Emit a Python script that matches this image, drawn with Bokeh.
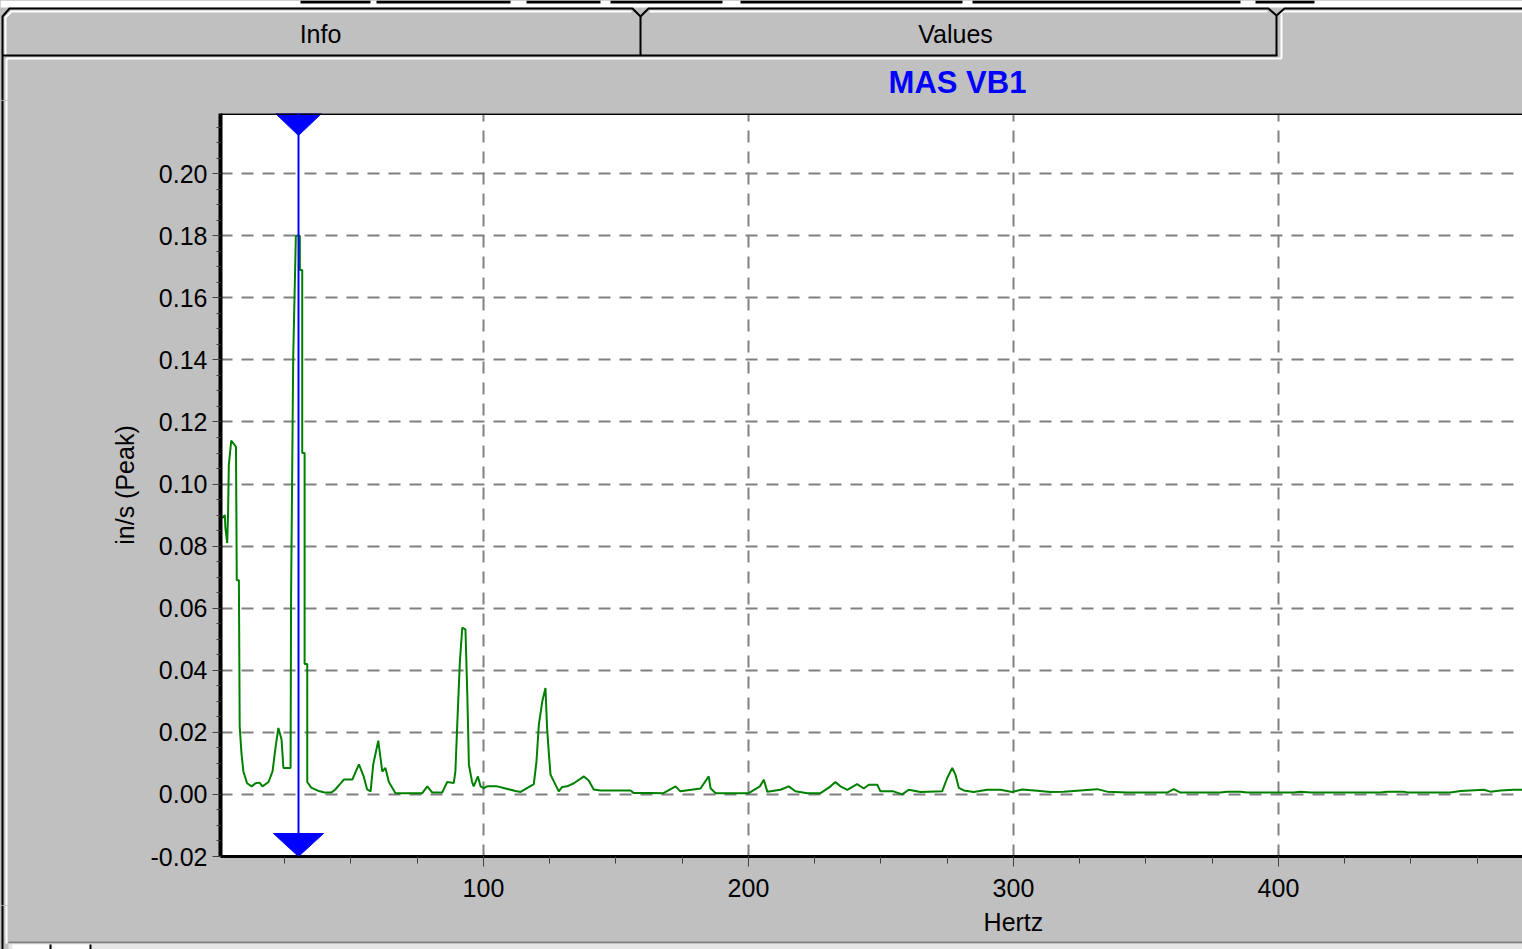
import numpy as np
from bokeh.plotting import figure
from bokeh.layouts import column, row
from bokeh.models import Range1d, FixedTicker, NumeralTickFormatter, Span
from bokeh.embed import file_html
from bokeh.resources import INLINE
from bokeh.core.properties import value

# ---------------- data ----------------
title_text = "MAS VB1"
x_label = "Hertz"
y_label = "in/s (Peak)"
tab_labels = ["Info", "Values"]

freq_hz = [1.4, 2.4, 2.6, 3.3, 3.6, 3.9, 4.8, 5.7, 6.6, 6.9, 7.7, 8.0, 8.7, 9.4, 10.8, 12.5,
           14.0, 15.5, 16.6, 18.9, 20.4, 21.5, 22.6, 23.8, 24.5, 27.2, 27.4, 28.2, 29.2, 30.7,
           30.7, 31.6, 31.6, 32.5, 32.5, 33.5, 33.5, 35.0, 37.5, 40.0, 42.5, 44.0, 46.0, 47.3,
           50.5, 53.0, 54.8, 56.1, 57.4, 58.4, 60.3, 61.8, 63.0, 64.3, 66.8, 76.9, 78.8, 80.7,
           84.4, 86.3, 88.8, 89.4, 90.1, 91.1, 92.0, 93.2, 93.9, 94.5, 95.7, 96.3, 97.9, 98.9,
           100.1, 101.4, 105.2, 112.1, 114.0, 119.0, 120.0, 120.9, 122.2, 123.4, 124.0, 124.7,
           125.3, 128.4, 129.7, 131.6, 134.1, 137.9, 139.7, 141.6, 144.2, 155.5, 156.6, 163.0,
           167.9, 172.5, 174.3, 181.9, 185.0, 185.7, 187.6, 200.1, 204.3, 205.8, 207.1, 212.1,
           215.2, 217.7, 222.2, 227.2, 231.0, 232.8, 234.7, 237.3, 241.0, 243.5, 245.4, 248.6,
           249.8, 254.7, 258.0, 260.5, 264.9, 273.1, 275.0, 276.9, 278.1, 279.4, 281.3, 285.0,
           290.1, 295.1, 299.5, 303.3, 309.0, 314.0, 318.9, 331.6, 335.4, 342.9, 358.0, 360.5,
           363.0, 378.1, 380.6, 385.7, 388.2, 405.7, 408.3, 412.1, 438.5, 441.0, 447.2, 448.6,
           464.9, 468.7, 477.5, 480.0, 483.8, 488.7, 492.1]
amp_ips = [0.089, 0.090, 0.086, 0.081, 0.090, 0.106, 0.114, 0.113, 0.112, 0.069, 0.069, 0.022,
           0.013, 0.0074, 0.0036, 0.0026, 0.0036, 0.0038, 0.0026, 0.0040, 0.0074, 0.0150, 0.0214,
           0.0177, 0.0085, 0.0085, 0.0645, 0.141, 0.180, 0.180, 0.169, 0.169, 0.110, 0.110, 0.042,
           0.042, 0.004, 0.0022, 0.0012, 0.0006, 0.0006, 0.0015, 0.0035, 0.0048, 0.0048, 0.0097,
           0.0058, 0.0016, 0.0010, 0.0097, 0.0173, 0.0074, 0.0085, 0.0040, 0.0004, 0.0004, 0.0026,
           0.0006, 0.0006, 0.0040, 0.0037, 0.0074, 0.0225, 0.0429, 0.0537, 0.0532, 0.0322, 0.0096,
           0.0040, 0.0026, 0.0058, 0.0026, 0.0020, 0.0026, 0.0026, 0.0011, 0.0008, 0.0033, 0.0106,
           0.0225, 0.0300, 0.0343, 0.0214, 0.0129, 0.0064, 0.0010, 0.0024, 0.0026, 0.0036, 0.0058,
           0.0045, 0.0016, 0.0013, 0.0013, 0.0005, 0.0005, 0.0004, 0.0026, 0.0010, 0.0019, 0.0058,
           0.0020, 0.0004, 0.0004, 0.0026, 0.0047, 0.0009, 0.0015, 0.0026, 0.0010, 0.0004, 0.0004,
           0.0026, 0.0040, 0.0026, 0.0015, 0.0033, 0.0019, 0.0031, 0.0031, 0.0010, 0.0010, 0.0000,
           0.0015, 0.0008, 0.0010, 0.0053, 0.0085, 0.0064, 0.0021, 0.0013, 0.0008, 0.0015, 0.0015,
           0.0008, 0.0016, 0.0012, 0.0008, 0.0009, 0.0017, 0.0009, 0.0006, 0.0006, 0.0017, 0.0006,
           0.0006, 0.0009, 0.0009, 0.0006, 0.0006, 0.0009, 0.0006, 0.0006, 0.0009, 0.0009, 0.0006,
           0.0006, 0.0011, 0.0015, 0.0009, 0.0013, 0.0015, 0.0015]
cursor_hz = 30.2

x_ticks = [100, 200, 300, 400]
y_ticks = [-0.02, 0.0, 0.02, 0.04, 0.06, 0.08, 0.10, 0.12, 0.14, 0.16, 0.18, 0.20]

# ---------------- layout constants ----------------
X0, X1 = 0.76, 492.1
Y0, Y1 = -0.02, 0.2194
PAGE_W = 1522
HEAD_H = 100          # tabs + chart title
LEFT_W = 8
MAIN_W = PAGE_W - LEFT_W
MAIN_H = 805
BOT_H = 44
FRAME_L, FRAME_T, FRAME_B = 220 - LEFT_W, 13, 49
FRAME_W = MAIN_W - FRAME_L
FRAME_H = MAIN_H - FRAME_T - FRAME_B
GRAY = "#C0C0C0"
FONT = "Liberation Sans"


def chrome_fig(w, h):
    f = figure(width=w, height=h, x_range=Range1d(0, w), y_range=Range1d(h, 0),
               toolbar_location=None, output_backend="svg", x_axis_location=None,
               y_axis_location=None, min_border=0, background_fill_color=GRAY,
               border_fill_color=GRAY, outline_line_color=None)
    f.grid.visible = False
    f.frame_align = False
    return f


# ---------------- tab strip + title ----------------
t = chrome_fig(PAGE_W, HEAD_H)
t.quad(left=[0], right=[PAGE_W], top=[0], bottom=[7], fill_color="white", line_color=None)
seg_l = [300, 376, 526, 610, 740, 972, 1255]
seg_r = [370, 510, 600, 722, 962, 1240, 1314]
t.quad(left=seg_l, right=seg_r, top=[0] * 7, bottom=[3] * 7, fill_color="black", line_color=None)
t.multi_line(xs=[[5, 5, 11, 631], [649, 1267], [1281, 1281, PAGE_W], [6, 1281]],
             ys=[[55, 17, 11, 11], [11, 11], [58, 11, 11], [58, 58]],
             line_color="white", line_width=2)
t.multi_line(xs=[[2, 2, 9, 632, 640, 648, 1268, 1276, 1284, PAGE_W], [640, 640], [1276, 1276], [2, 1277]],
             ys=[[HEAD_H, 16, 8, 8, 16, 8, 8, 15, 8, 8], [16, 55], [15, 55], [55, 55]],
             line_color="black", line_width=2)
t.quad(left=[5], right=[7], top=[58], bottom=[HEAD_H], fill_color="white", line_color=None)
t.text(x=[320, 955], y=[33, 33], text=tab_labels, text_font=value(FONT), text_font_size="25px",
       text_align="center", text_baseline="middle", text_color="black")
t.text(x=[957], y=[82], text=[title_text], text_font=value(FONT), text_font_size="31px",
       text_font_style="bold", text_align="center", text_baseline="middle", text_color="#0000FF")

# ---------------- left panel edge ----------------
lf = chrome_fig(LEFT_W, MAIN_H)
lf.quad(left=[1, 5], right=[3, 7], top=[0, 0], bottom=[MAIN_H, MAIN_H],
        fill_color=["black", "white"], line_color=None)

# ---------------- main chart ----------------
p = figure(width=MAIN_W, height=MAIN_H, x_range=Range1d(X0, X1), y_range=Range1d(Y0, Y1),
           toolbar_location=None, output_backend="svg",
           min_border_left=FRAME_L, min_border_right=0, min_border_top=FRAME_T, min_border_bottom=FRAME_B,
           background_fill_color="white", border_fill_color=GRAY, outline_line_color=None)
p.frame_align = False

p.xaxis.ticker = FixedTicker(ticks=x_ticks, minor_ticks=list(np.arange(25, 500, 25)))
p.yaxis.ticker = FixedTicker(ticks=y_ticks, minor_ticks=list(np.round(np.arange(-0.02, 0.2201, 0.005), 3)))
p.yaxis.formatter = NumeralTickFormatter(format="0.00")
p.xaxis.formatter = NumeralTickFormatter(format="0")

for ax in (p.xaxis[0], p.yaxis[0]):
    ax.axis_line_color = "black"
    ax.major_tick_line_color = "#404040"
    ax.minor_tick_line_color = "#404040"
    ax.major_tick_in = 0
    ax.minor_tick_in = 0
    ax.major_label_text_font = FONT
    ax.major_label_text_font_size = "25px"
    ax.major_label_text_color = "black"
    ax.axis_label_text_font = FONT
    ax.axis_label_text_font_size = "25px"
    ax.axis_label_text_font_style = "normal"
    ax.axis_label_text_color = "black"

p.yaxis.axis_line_width = 4
p.yaxis.major_tick_out = 8
p.yaxis.minor_tick_out = 4
p.yaxis.major_label_standoff = 5
p.yaxis.axis_label = y_label
p.yaxis.axis_label_standoff = 9

p.xaxis.axis_line_width = 3
p.xaxis.major_tick_out = 10
p.xaxis.minor_tick_out = 7
p.xaxis.major_label_standoff = 12

p.grid.grid_line_color = "#808080"
p.grid.grid_line_dash = "12 9"
p.grid.grid_line_width = 2

p.line(freq_hz, amp_ips, line_color="#008000", line_width=2)

# top frame border
p.add_layout(Span(location=Y1, dimension="width", line_color="black", line_width=3))

# cursor with its two markers
p.add_layout(Span(location=cursor_hz, dimension="height", line_color="#0000FF", line_width=2))
hz_per_px = (X1 - X0) / FRAME_W
val_per_px = (Y1 - Y0) / FRAME_H
p.patches(xs=[[cursor_hz - 23 * hz_per_px, cursor_hz + 23 * hz_per_px, cursor_hz],
              [cursor_hz - 25 * hz_per_px, cursor_hz + 25 * hz_per_px, cursor_hz]],
          ys=[[Y1, Y1, Y1 - 22 * val_per_px],
              [Y0 + 23 * val_per_px, Y0 + 23 * val_per_px, Y0]],
          fill_color="#0000FF", line_color="#0000FF")

# ---------------- bottom strip (x-axis title + panel edge) ----------------
b = chrome_fig(PAGE_W, BOT_H)
b.quad(left=[1, 5], right=[3, 7], top=[0, 0], bottom=[BOT_H, 38], fill_color=["black", "white"], line_color=None)
b.quad(left=[8], right=[PAGE_W], top=[36], bottom=[38], fill_color="#808080", line_color=None)
b.quad(left=[8], right=[PAGE_W], top=[38], bottom=[BOT_H], fill_color="#E6E6E6", line_color=None)
b.quad(left=[12, 49, 52, 89], right=[49, 51, 89, 91], top=[39] * 4, bottom=[BOT_H] * 4,
       fill_color=["white", "black", "white", "black"], line_color=None)
# "Hertz" centred under the 300 Hz grid line, as in the reference
hertz_px = 220 + (300 - X0) / hz_per_px
b.text(x=[hertz_px], y=[16], text=[x_label], text_font=value(FONT), text_font_size="25px",
       text_align="center", text_baseline="middle", text_color="black")

mid = row(lf, p, spacing=0)
mid.styles = {"background-color": GRAY}
layout = column(t, mid, b, spacing=0)
layout.styles = {"background-color": GRAY}
open("out.html", "w").write(file_html(layout, INLINE))
